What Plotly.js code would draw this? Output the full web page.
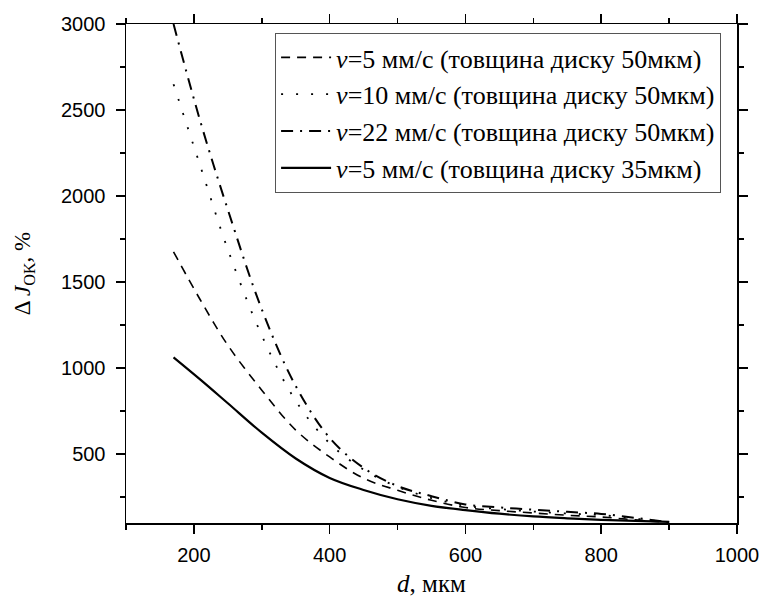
<!DOCTYPE html>
<html>
<head>
<meta charset="utf-8">
<script src="https://cdn.plot.ly/plotly-3.0.1.min.js"></script>
<style>body{margin:0;background:#fff;} #chart{width:760px;height:597px;}</style>
</head>
<body>
<div id="chart"></div>
<script>
// Diameter d, мкм
const dValues = [170, 210, 250, 300, 350, 400, 450, 500, 550, 600, 650, 700, 750, 800, 850, 900];
// ΔJ_OK, % for each series
const v5_50  = [1676, 1393, 1133, 872, 640, 484, 360, 290, 232, 190, 172, 158, 145, 135, 118, 103];
const v10_50 = [2650, 2168, 1690, 1190, 810, 563, 410, 310, 245, 200, 181, 167, 155, 146, 125, 104];
const v22_50 = [3000, 2427, 1921, 1342, 896, 595, 420, 315, 256, 208, 191, 177, 165, 153, 130, 105];
const v5_35  = [1063, 932, 796, 625, 475, 362, 292, 238, 200, 175, 154, 138, 127, 118, 112, 107];

const seriesNames = [
  '<i>v</i>=5 мм/с (товщина диску 50мкм)',
  '<i>v</i>=10 мм/с (товщина диску 50мкм)',
  '<i>v</i>=22 мм/с (товщина диску 50мкм)',
  '<i>v</i>=5 мм/с (товщина диску 35мкм)'
];
const xTitle = '<i>d</i>, мкм';
const yTitle = 'Δ <i>J</i><sub>OK</sub>, %';

const SERIF = "'Liberation Serif', 'Times New Roman', serif";
const SANS = "'Liberation Sans', Arial, sans-serif";

const mk = (y, name, dash, w) => ({
  x: dValues, y: y, name: name, type: 'scatter', mode: 'lines',
  line: {color: '#000', width: w, dash: dash, shape: 'spline', smoothing: 1}
});

const traces = [
  mk(v5_50, seriesNames[0], '9px,7px', 1.6),
  mk(v10_50, seriesNames[1], '2px,13px', 1.8),
  mk(v22_50, seriesNames[2], '12px,7px,2px,7px', 2),
  mk(v5_35, seriesNames[3], 'solid', 2.2)
];

const axisFont = {family: SANS, size: 20, color: '#000'};
const layout = {
  width: 760, height: 597,
  margin: {l: 126, r: 23, t: 24, b: 74},
  paper_bgcolor: '#fff', plot_bgcolor: '#fff',
  font: {family: SERIF, size: 24, color: '#000'},
  showlegend: true,
  legend: {
    x: 0.244, y: 0.982, xanchor: 'left', yanchor: 'top',
    bgcolor: '#fff', bordercolor: '#555', borderwidth: 1,
    font: {family: SERIF, size: 26, color: '#000'},
    itemwidth: 50,
    tracegroupgap: 0
  },
  xaxis: {
    range: [100, 1000], tick0: 200, dtick: 200,
    showgrid: false, zeroline: false,
    showline: true, linecolor: '#000', linewidth: 1.5, mirror: 'allticks',
    ticks: 'outside', ticklen: 9, tickwidth: 1.5, tickcolor: '#000',
    minor: {dtick: 100, tick0: 100, ticks: 'outside', ticklen: 5, tickwidth: 1.5, tickcolor: '#000', showgrid: false},
    tickfont: axisFont, ticklabelstandoff: 4,
    title: {text: xTitle, font: {family: SERIF, size: 25, color: '#000'}, standoff: 16}
  },
  yaxis: {
    range: [100, 3000], tick0: 500, dtick: 500,
    showgrid: false, zeroline: false,
    showline: true, linecolor: '#000', linewidth: 1.5, mirror: 'allticks',
    ticks: 'outside', ticklen: 9, tickwidth: 1.5, tickcolor: '#000',
    minor: {dtick: 250, tick0: 250, ticks: 'outside', ticklen: 5, tickwidth: 1.5, tickcolor: '#000', showgrid: false},
    tickfont: axisFont, ticklabelstandoff: 6,
    title: {text: yTitle, font: {family: SERIF, size: 23, color: '#000'}, standoff: 24}
  }
};

Plotly.newPlot('chart', traces, layout, {displayModeBar: false, staticPlot: true});
</script>
</body>
</html>
